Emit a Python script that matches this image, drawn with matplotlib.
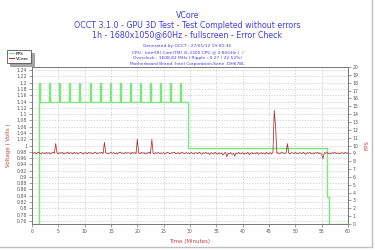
import numpy as np
import matplotlib
matplotlib.use("Agg")
import matplotlib.pyplot as plt
from matplotlib.ticker import MultipleLocator
from matplotlib.lines import Line2D

# VCore samples (mV), one every 0.25 minute from 0 to 60
vcore_mv = [
    977, 975, 978, 974, 976, 979, 975, 973, 977, 976, 974, 978, 975, 977, 973, 976, 979, 975, 1006, 976,
    974, 977, 975, 978, 973, 976, 975, 979, 974, 977, 976, 973, 978, 975, 977, 974, 976, 978, 975, 973,
    977, 976, 974, 978, 975, 977, 973, 976, 979, 975, 974, 977, 976, 978, 974, 1010, 977, 975, 973, 976,
    978, 975, 977, 974, 976, 973, 977, 979, 975, 976, 974, 978, 975, 977, 976, 973, 978, 975, 977, 974,
    1020, 976, 974, 978, 975, 977, 973, 976, 975, 979, 974, 1019, 976, 973, 977, 975, 978, 974, 976, 975,
    977, 973, 976, 978, 975, 974, 977, 976, 979, 974, 975, 977, 973, 976, 978, 975, 974, 977, 975, 976,
    974, 978, 975, 973, 977, 976, 974, 979, 975, 972, 977, 975, 978, 974, 976, 971, 977, 975, 973, 978,
    975, 972, 977, 974, 976, 970, 975, 978, 964, 975, 973, 977, 972, 975, 966, 976, 974, 978, 973, 975,
    977, 972, 976, 974, 978, 971, 975, 977, 973, 976, 974, 978, 972, 975, 977, 974, 976, 973, 978, 975,
    974, 977, 973, 979, 1112, 1060, 975, 977, 973, 976, 978, 975, 974, 977, 1006, 975, 973, 977, 976, 974,
    978, 975, 973, 977, 976, 974, 978, 975, 972, 977, 975, 978, 974, 976, 973, 977, 975, 978, 974, 976,
    973, 958, 977, 975, 978, 974, 976, 973, 977, 975, 978, 974, 976, 975, 973, 977, 976, 974, 978, 975,
    976,
]
vcore_step = 0.25

# FPS: level changes (minutes) and the level held in between
fps_times = [0, 1.3, 29.6, 56.0, 56.3, 60]
fps_levels = [0, 15.6, 9.7, 3.4, 0]
# short FPS bumps during first phase
peak_times = [1.3, 3.3, 5.2, 7.1, 9.0, 11.0, 12.9, 14.8, 16.7, 18.6, 20.5, 22.4, 24.3, 26.2, 28.1]
peak_value = 18

title_lines = ["VCore",
               "OCCT 3.1.0 - GPU 3D Test - Test Completed without errors",
               "1h - 1680x1050@60Hz - fullscreen - Error Check"]
info_lines = ["Generated by OCCT : 27/01/12 19:00:36",
              "CPU : Intel(R) Core(TM) i5-2300 CPU @ 2.80GHz (  )",
              "Overclock : 1608.82 MHz | Ripple : 0.27 ( 22.52%)",
              "Motherboard Brand :Intel Corporation,Serie :DH67BL"]

blue = '#4040e0'
red = '#c84040'
green = '#70ee70'
vred = '#aa3030'


def fps_series():
    pts = []
    for i in range(len(fps_levels)):
        t0, t1, lvl = fps_times[i], fps_times[i + 1], fps_levels[i]
        pts.append((t0, lvl))
        for p in peak_times:
            if t0 <= p < t1:
                pts += [(p, lvl), (p, peak_value), (p + 0.2, peak_value), (p + 0.2, lvl)]
        pts.append((t1, lvl))
    return zip(*pts)


fig = plt.figure(figsize=(3.75, 2.5), dpi=100)
fig.patch.set_facecolor('white')

ax1 = fig.add_axes([0.0853, 0.104, 0.8427, 0.628])
ax2 = ax1.twinx()
ax1.set_zorder(ax2.get_zorder() + 1)
ax1.patch.set_visible(False)
ax2.set_facecolor('#fff8e8')

fx, fy = fps_series()
ax2.plot(list(fx), list(fy), color=green, linewidth=1.0)

t = np.arange(len(vcore_mv)) * vcore_step
ax1.plot(t, np.array(vcore_mv) / 1000.0, color=vred, linewidth=0.55)

ax1.set_xlim(0, 60)
ax1.set_ylim(0.75, 1.25)
ax2.set_ylim(0, 20)
ax1.xaxis.set_major_locator(MultipleLocator(5))
ax1.yaxis.set_major_locator(MultipleLocator(0.02))
ax2.yaxis.set_major_locator(MultipleLocator(1))
ax1.yaxis.set_major_formatter(plt.FuncFormatter(lambda v, p: '%g' % round(v, 2)))

ax1.grid(which='major', linestyle=(0, (2, 2)), linewidth=0.5, color='#c8c8c8')

for ax in (ax1, ax2):
    ax.tick_params(labelsize=3.3, colors='#555555', length=2, width=0.4, pad=1.5)
    for s in ax.spines.values():
        s.set_color('#777777')
        s.set_linewidth(0.6)

ax1.set_ylabel('Voltage ( Volts )', color=red, fontsize=4, labelpad=4)
ax2.set_ylabel('FPS', color=red, fontsize=4, labelpad=4)
ax1.set_xlabel('Time (Minutes)', color=red, fontsize=4, labelpad=4)

for i, s in enumerate(title_lines):
    fig.text(0.5, 0.94 - i * 0.04, s, ha='center', va='center', color=blue, fontsize=5.7)
for i, s in enumerate(info_lines):
    fig.text(0.5, 0.816 - i * 0.024, s, ha='center', va='center', color=blue, fontsize=3.2)

handles = [Line2D([], [], color=green, linewidth=0.8), Line2D([], [], color=vred, linewidth=0.8)]
leg = fig.legend(handles, ['FPS', 'VCore'], loc='upper left', bbox_to_anchor=(0.013, 0.81),
                 fontsize=3.2, handlelength=1.2, handletextpad=0.4, borderpad=0.4,
                 fancybox=False, shadow=True, labelspacing=0.3)
leg.get_frame().set_edgecolor('#333333')
leg.get_frame().set_linewidth(0.5)

# figure border (right and bottom edges)
fig.add_artist(Line2D([0.992, 0.992], [0.012, 1.0], color='#c0c0c0', linewidth=1.0))
fig.add_artist(Line2D([0.0, 0.992], [0.012, 0.012], color='#c0c0c0', linewidth=1.0))

fig.savefig('out.png', dpi=100)
